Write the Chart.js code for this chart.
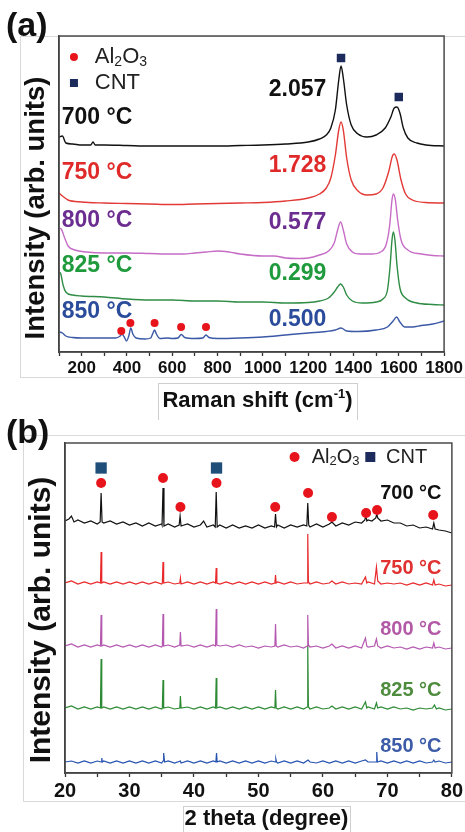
<!DOCTYPE html>
<html>
<head>
<meta charset="utf-8">
<script src="https://cdn.jsdelivr.net/npm/chart.js@4.4.1/dist/chart.umd.min.js"></script>
<style>
  body { margin:0; background:#fff; }
  #wrap { position:relative; width:465px; height:832px; overflow:hidden; background:#fff; }
  canvas { position:absolute; left:0; }
  #ca { top:0; }
  #cb { top:405px; }
</style>
</head>
<body>
<div id="wrap">
  <canvas id="ca" width="465" height="420"></canvas>
  <canvas id="cb" width="465" height="427"></canvas>
</div>
<script>
// ---- (a) Raman spectra, intensity in arb. units (offset stacked) ----
const raman700 = [[100,215],[115,216],[130,209],[160,208],[200,207],[240,207],[250,210],[260,207],[300,207],[400,206.5],[500,206],[600,206],[700,206],[800,206],[900,206.5],[1000,207],[1100,208],[1200,210],[1250,213],[1280,217],[1300,224],[1320,242],[1335,272],[1345,286],[1355,274],[1370,247],[1390,227],[1420,218],[1460,215],[1500,217],[1540,224],[1565,235],[1580,244],[1592,245],[1605,239],[1620,224],[1640,214],[1680,209],[1720,207],[1800,206]];
const raman750 = [[100,159],[115,156],[140,152],[200,150],[300,149],[400,148.5],[500,148],[600,147.5],[700,148],[800,148.5],[900,149],[1000,149.5],[1100,151],[1200,154],[1250,158],[1280,164],[1300,174],[1320,197],[1335,222],[1345,230],[1355,222],[1370,194],[1390,172],[1420,161],[1460,157],[1500,158],[1530,164],[1555,180],[1572,196],[1580,198],[1592,192],[1610,172],[1630,158],[1660,152],[1720,149.5],[1800,149]];
const raman800 = [[100,124],[110,123],[125,114],[140,106],[170,102],[220,100],[300,99],[400,99],[500,98.5],[600,98],[650,98],[700,99],[750,100],[800,101],[850,100],[900,98],[1000,96],[1050,96],[1100,94],[1150,93.5],[1200,94],[1250,97],[1290,101],[1315,109],[1330,122],[1343,130],[1355,122],[1370,108],[1395,100],[1430,98],[1480,98],[1520,100],[1545,108],[1560,127],[1570,152],[1576,158],[1585,152],[1595,132],[1610,112],[1640,102],[1700,98],[1750,96.5],[1800,96]];
const raman825 = [[100,80],[108,78],[118,67],[130,60],[160,57],[200,56],[300,55],[400,53],[500,52],[600,52],[700,51],[800,51],[900,50],[1000,50],[1100,49],[1200,49.5],[1250,51],[1290,54],[1315,60],[1330,65],[1343,68],[1355,65],[1370,57],[1395,51],[1440,49],[1500,50],[1530,53],[1550,62],[1562,87],[1570,112],[1576,120],[1583,112],[1592,87],[1605,64],[1630,54],[1680,49],[1750,47.5],[1800,47]];
const raman850 = [[100,20],[115,19],[130,16],[160,14.5],[200,14],[250,14],[300,14],[350,14],[370,16],[378,18],[388,15],[398,11],[408,16],[417,24],[426,18],[440,14],[480,13],[505,14],[515,19],[522,22],[530,18],[545,13.5],[580,14],[600,13.5],[625,14],[640,17.5],[655,14.5],[700,13.5],[735,14],[749,17],[762,14.5],[800,13.5],[900,14],[1000,15],[1100,17],[1200,19],[1280,20.5],[1320,22],[1345,24],[1370,21],[1420,20.5],[1500,22],[1550,25],[1575,31],[1590,35],[1605,30],[1625,25],[1660,25],[1700,26.5],[1750,28],[1800,31]];
const ramanAl2O3 = [[375,21],[415,29],[522,29],[639,25],[749,25]];
const ramanCNT = [[1345,294],[1600,255]];
const ramanTicks = [200,400,600,800,1000,1200,1400,1600,1800];
const temps = ["700 °C","750 °C","800 °C","825 °C","850 °C"];
const ramanRatios = ["2.057","1.728","0.577","0.299","0.500"];

// ---- (b) XRD patterns, intensity in arb. units (offset stacked) ----
const xrd700 = [[20,252],[20.6,254],[21,257],[21.4,251],[22,253],[23,250],[24,252],[25,249],[25.45,251],[25.6,280],[25.75,251],[26,250],[27,252],[28,249],[29,251],[30,248],[31,250],[32,247],[33,250],[34,247],[35,249],[35.05,248],[35.2,285],[35.35,247],[36,249],[37,246],[37.7,248],[37.85,257],[38,247],[39,249],[40,246],[41,248],[41.5,252],[42,246],[43,248],[43.3,246],[43.45,281],[43.6,246],[44,248],[45,245],[46,248],[47,245],[48,247],[49,245],[50,248],[51,245],[52,247],[52.5,246],[52.65,259],[52.8,246],[53,248],[54,245],[55,248],[56,246],[57,248],[57.5,247],[57.65,270],[57.8,248],[58,246],[59,249],[60,246],[61,249],[61.4,251],[62,247],[63,250],[64,248],[65,251],[66,250],[66.5,253],[66.65,258],[66.8,252],[67,253],[67.6,252],[68.2,255],[68.35,259],[68.5,255],[69,252],[70,253],[71,250],[72,250],[73,247],[74,248],[75,245],[76,246],[77,244],[77.2,250],[77.4,244],[78,243],[79,242],[80,240]];
const xrd750 = [[20,190],[21,192],[22,189],[23,191],[24,189],[25,191],[25.5,190],[25.6,221],[25.7,190],[26,191],[27,189],[28,191],[29,189],[30,191],[31,189],[32,191],[33,189],[34,191],[35,189],[35.1,190],[35.2,211],[35.3,190],[36,191],[37,189],[37.8,190],[37.9,195],[38,189],[39,191],[40,189],[41,191],[42,189],[43,191],[43.35,190],[43.45,205],[43.55,190],[44,189],[45,191],[46,189],[47,191],[48,189],[49,191],[50,189],[51,191],[52,189],[52.55,190],[52.65,198],[52.75,190],[53,191],[54,189],[55,191],[56,189],[57,190],[57.55,190],[57.65,239],[57.75,191],[58,189],[59,191],[60,189],[61,190],[61.4,192],[62,189],[63,191],[64,189],[65,190],[66,189],[66.6,196],[66.8,190],[67,191],[68,189],[68.3,206],[68.5,192],[69,189],[70,190],[71,189],[72,190],[73,188],[74,190],[75,188],[76,190],[77,188],[77.2,193],[77.4,188],[78,189],[79,187],[80,188]];
const xrd800 = [[20,127],[21,129],[22,126],[23,128],[24,126],[25,128],[25.5,127],[25.6,158],[25.7,127],[26,128],[27,126],[28,128],[29,126],[30,128],[31,126],[32,128],[33,126],[34,128],[35,126],[35.1,127],[35.2,159],[35.3,127],[36,128],[37,126],[37.8,128],[37.9,141],[38,127],[39,128],[40,126],[41,128],[42,126],[43,128],[43.35,127],[43.45,164],[43.55,128],[44,127],[45,128],[46,126],[47,128],[48,126],[49,127],[50,125],[51,127],[52,126],[52.55,127],[52.65,149],[52.75,127],[53,126],[54,128],[55,126],[56,127],[57,125],[57.55,127],[57.65,158],[57.75,128],[58,126],[59,127],[60,125],[61,127],[61.4,129],[62,125],[63,127],[64,125],[65,127],[66,125],[66.6,135],[66.8,127],[67,126],[68,127],[68.3,134],[68.5,127],[69,125],[70,127],[71,125],[72,126],[73,124],[74,126],[75,124],[76,126],[77,125],[77.2,130],[77.4,125],[78,126],[79,124],[80,125]];
const xrd825 = [[20,65],[21,67],[22,64],[23,66],[24,64],[25,66],[25.5,65],[25.6,114],[25.7,65],[26,66],[27,64],[28,66],[29,64],[30,66],[31,64],[32,66],[33,64],[34,66],[35,64],[35.1,65],[35.2,93],[35.3,65],[36,66],[37,64],[37.8,65],[37.9,77],[38,65],[39,66],[40,64],[41,66],[42,64],[43,66],[43.35,65],[43.45,95],[43.55,65],[44,66],[45,64],[46,66],[47,64],[48,66],[49,64],[50,66],[51,64],[52,66],[52.55,65],[52.65,83],[52.75,65],[53,64],[54,66],[55,64],[56,66],[57,64],[57.55,66],[57.65,128],[57.75,66],[58,64],[59,66],[60,64],[61,65],[61.4,67],[62,64],[63,66],[64,64],[65,66],[66,64],[66.6,71],[66.8,65],[67,66],[68,64],[68.3,70],[68.5,65],[69,66],[70,64],[71,66],[72,64],[73,65],[74,63],[75,65],[76,64],[77,65],[77.3,68],[77.6,64],[78,65],[79,63],[80,64]];
const xrd850 = [[20,11],[21,12],[22,10],[23,12],[24,10],[25,12],[25.6,11],[25.7,15],[25.8,11],[26,12],[27,10],[28,12],[29,10],[30,12],[31,10],[32,12],[33,10],[34,12],[35,10],[35.2,12],[35.3,20],[35.45,11],[36,12],[37,10],[37.9,12],[38,10],[39,12],[40,10],[41,12],[42,10],[43,12],[43.4,11],[43.5,20],[43.6,11],[44,12],[45,10],[46,12],[47,10],[48,12],[49,10],[50,12],[51,10],[52,12],[52.6,11],[52.7,14],[52.8,11],[53,10],[54,12],[55,10],[56,12],[57,10],[57.7,13],[58,11],[59,10],[60,12],[61,10],[62,12],[63,10],[64,12],[65,10],[66,12],[66.6,13],[67,11],[68,11],[68.25,11],[68.35,21],[68.45,11],[69,12],[70,10],[71,12],[72,10],[73,12],[74,10],[75,12],[76,10],[77,11],[77.2,13],[77.4,11],[78,12],[79,10],[80,11]];
const xrdAl2O3 = [[25.6,290],[35.2,295],[37.9,266],[43.5,290],[52.6,266],[57.7,280],[61.4,256],[66.7,260],[68.4,263],[77.1,258]];
const xrdCNT = [[25.6,305],[43.5,305]];
const xrdTicks = [20,30,40,50,60,70,80];

const SANS = "'Liberation Sans', Arial, Helvetica, sans-serif";
const NARROW = "'Liberation Sans Narrow', 'Arial Narrow', 'Liberation Sans', sans-serif";
const pts = arr => arr.map(([x,y]) => ({x, y}));

// "Al2O3" with real subscripts
function chemText(ctx, x, y, size, color){
  const sub = Math.round(size*0.64);
  ctx.fillStyle = color; ctx.textAlign = "left"; ctx.textBaseline = "middle";
  const parts = [["Al",0],["2",1],["O",0],["3",1]];
  parts.forEach(([t,s])=>{
    ctx.font = (s ? sub : size) + "px " + SANS;
    ctx.fillText(t, x, y + (s ? size*0.22 : 0));
    x += ctx.measureText(t).width;
  });
}

function decoPlugin(cfg){
  return {
    id: "deco",
    beforeDraw(chart){
      const ctx = chart.ctx;
      ctx.save();
      ctx.strokeStyle = "#d9d9d9"; ctx.lineWidth = 1;
      const f = cfg.frame;
      ctx.strokeRect(f[0]+0.5, f[1]+0.5, f[2], f[3]);
      ctx.restore();
    },
    afterDraw(chart){
      const {ctx, chartArea:a, scales:{x, y}} = chart;
      ctx.save();
      // plot frame
      ctx.strokeStyle = "#4a4a4a"; ctx.lineWidth = 1.5;
      ctx.strokeRect(a.left, a.top, a.right - a.left, a.bottom - a.top);

      // series labels
      ctx.textBaseline = "middle";
      cfg.labels.forEach(l=>{
        ctx.font = "bold " + l.size + "px " + SANS;
        ctx.fillStyle = l.color; ctx.textAlign = l.align;
        ctx.fillText(l.text, x.getPixelForValue(l.x), y.getPixelForValue(l.y));
      });

      // legend
      const L = cfg.legend;
      ctx.fillStyle = "#e8141c";
      ctx.beginPath();
      ctx.arc(x.getPixelForValue(L.dot[0]), y.getPixelForValue(L.dot[1]), L.r, 0, Math.PI*2);
      ctx.fill();
      chemText(ctx, x.getPixelForValue(L.t1[0]), y.getPixelForValue(L.t1[1]), L.size, "#222");
      ctx.fillStyle = "#1c2a5c";
      const sx = x.getPixelForValue(L.sq[0]), sy = y.getPixelForValue(L.sq[1]);
      ctx.fillRect(sx - L.r, sy - L.r, L.r*2, L.r*2);
      ctx.font = L.size + "px " + SANS; ctx.fillStyle = "#222"; ctx.textAlign = "left";
      ctx.fillText("CNT", x.getPixelForValue(L.t2[0]), y.getPixelForValue(L.t2[1]));

      // y axis title
      const yt = cfg.yTitle;
      ctx.save();
      ctx.translate(yt.x, yt.y); ctx.rotate(-Math.PI/2);
      ctx.font = "bold " + yt.size + "px " + SANS; ctx.fillStyle = "#111"; ctx.textAlign = "center";
      ctx.fillText("Intensity (arb. units)", 0, 0);
      ctx.restore();

      // x axis title in its light box
      const xt = cfg.xTitle;
      ctx.strokeStyle = "#cfcfcf"; ctx.lineWidth = 1;
      ctx.strokeRect(xt.box[0]+0.5, xt.box[1]+0.5, xt.box[2], xt.box[3]);
      ctx.font = "bold " + xt.size + "px " + SANS;
      const w1 = ctx.measureText(xt.text).width;
      let w2 = 0, w3 = 0;
      if (xt.sup){
        ctx.font = "bold " + Math.round(xt.size*0.6) + "px " + SANS;
        w2 = ctx.measureText(xt.sup).width;
        ctx.font = "bold " + xt.size + "px " + SANS;
        w3 = ctx.measureText(xt.tail).width;
      }
      let tx = xt.cx - (w1 + w2 + w3)/2;
      ctx.fillStyle = "#111"; ctx.textAlign = "left";
      ctx.fillText(xt.text, tx, xt.cy); tx += w1;
      if (xt.sup){
        ctx.font = "bold " + Math.round(xt.size*0.6) + "px " + SANS;
        ctx.fillText(xt.sup, tx, xt.cy - xt.size*0.32); tx += w2;
        ctx.font = "bold " + xt.size + "px " + SANS;
        ctx.fillText(xt.tail, tx, xt.cy);
      }

      // panel letter
      ctx.font = "bold 34px " + SANS; ctx.fillStyle = "#111";
      ctx.fillText(cfg.letter[0], cfg.letter[1], cfg.letter[2]);
      ctx.restore();
    }
  };
}

function lineSet(data, color, width, smooth){
  return {
    type: "line", data: pts(data), borderColor: color, borderWidth: width,
    pointRadius: 0, fill: false,
    cubicInterpolationMode: smooth ? "monotone" : "default", tension: 0
  };
}
function markSet(data, style, color, r){
  return {
    type: "scatter", data: pts(data), pointStyle: style, pointRadius: r,
    backgroundColor: color, borderColor: color, borderWidth: 0, showLine: false
  };
}
function xAxis(min, max, step, labels, font, height, pad){
  return {
    type: "linear", min, max,
    ticks: { stepSize: step, autoSkip: false, maxRotation: 0, padding: pad, color: "#111", font,
             callback: v => labels.includes(v) ? String(v) : "" },
    grid: { display: true, drawOnChartArea: false, tickLength: 4, tickColor: "#333", tickWidth: 1.3 },
    border: { display: true, color: "#333", width: 1.5 },
    afterFit: s => { s.height = height; }
  };
}
function yAxis(max, width){
  return {
    type: "linear", min: 0, max,
    ticks: { display: false }, grid: { display: false },
    border: { display: true, color: "#333", width: 1.5 },
    afterFit: s => { s.width = width; }
  };
}

// ---- Chart (a) ----
const ramanLine = ["#111111","#e23a36","#c66cc6","#2f8c45","#3a58a6"];
const ramanText = ["#111111","#e02a2a","#6b2d8f","#1f9a3c","#2b4c9b"];
const ramanLabelY = [234,179,131,86,40];
const ramanRatioY = [262,186,129,78,32];
const labelsA = [];
temps.forEach((t,i)=>{
  labelsA.push({text:t, x:112, y:ramanLabelY[i], color:ramanText[i], align:"left", size:23});
  labelsA.push({text:ramanRatios[i], x:1280, y:ramanRatioY[i], color:ramanText[i], align:"right", size:23});
});

new Chart(document.getElementById("ca"), {
  data: { datasets: [
    markSet(ramanCNT, "rect", "#1c2a5c", 6),
    markSet(ramanAl2O3, "circle", "#e8141c", 4),
    lineSet(raman700, ramanLine[0], 1.4, true),
    lineSet(raman750, ramanLine[1], 1.4, true),
    lineSet(raman800, ramanLine[2], 1.4, true),
    lineSet(raman825, ramanLine[3], 1.4, true),
    lineSet(raman850, ramanLine[4], 1.4, true)
  ]},
  options: {
    responsive: false, animation: false, devicePixelRatio: 1,
    layout: { padding: { top: 36, right: 19, left: 0, bottom: 0 } },
    plugins: { legend: { display: false }, tooltip: { enabled: false } },
    scales: {
      x: xAxis(100, 1800, 100, ramanTicks, { family: SANS, size: 17, weight: "bold" }, 68, 2),
      y: yAxis(316, 59)
    }
  },
  plugins: [decoPlugin({
    frame: [20, 36, 460, 341],
    labels: labelsA,
    legend: { dot:[166,295], sq:[166,269], t1:[258,295], t2:[258,269], r:4, size:22 },
    yTitle: { x:36, y:208, size:27.5 },
    xTitle: { text:"Raman shift (cm", sup:"-1", tail:")", cx:257.5, cy:401, size:22, box:[158,383,199,40] },
    letter: ["(a)", 6, 27]
  })]
});

// ---- Chart (b) ----
const xrdLine = ["#111111","#e8282a","#b458b0","#2d8a35","#2753b0"];
const xrdText = ["#111111","#e03030","#b25aa6","#4e8c3e","#3d5ca8"];
const xrdLabelY = [280,205,144,83,27];
const labelsB = temps.map((t,i)=>({text:t, x:78.4, y:xrdLabelY[i], color:xrdText[i], align:"right", size:20}));

new Chart(document.getElementById("cb"), {
  data: { datasets: [
    markSet(xrdCNT, "rect", "#1f4e79", 8),
    markSet(xrdAl2O3, "circle", "#e8141c", 5),
    lineSet(xrd700, xrdLine[0], 1.2, false),
    lineSet(xrd750, xrdLine[1], 1.2, false),
    lineSet(xrd800, xrdLine[2], 1.2, false),
    lineSet(xrd825, xrdLine[3], 1.2, false),
    lineSet(xrd850, xrdLine[4], 1.2, false)
  ]},
  options: {
    responsive: false, animation: false, devicePixelRatio: 1,
    layout: { padding: { top: 38, right: 11, left: 0, bottom: 0 } },
    plugins: { legend: { display: false }, tooltip: { enabled: false } },
    scales: {
      x: xAxis(20, 80, 5, xrdTicks, { family: NARROW, size: 20, weight: "bold" }, 59, 2),
      y: yAxis(330, 65)
    }
  },
  plugins: [decoPlugin({
    frame: [23, 30, 450, 366],
    labels: labelsB,
    legend: { dot:[55.6,316], sq:[67.35,316], t1:[58.25,316], t2:[69.8,316], r:5, size:20 },
    yTitle: { x:42, y:215, size:30 },
    xTitle: { text:"2 theta (degree)", sup:"", tail:"", cx:266.5, cy:414, size:22, box:[183,401,167,30] },
    letter: ["(b)", 6, 29]
  })]
});
</script>
</body>
</html>
